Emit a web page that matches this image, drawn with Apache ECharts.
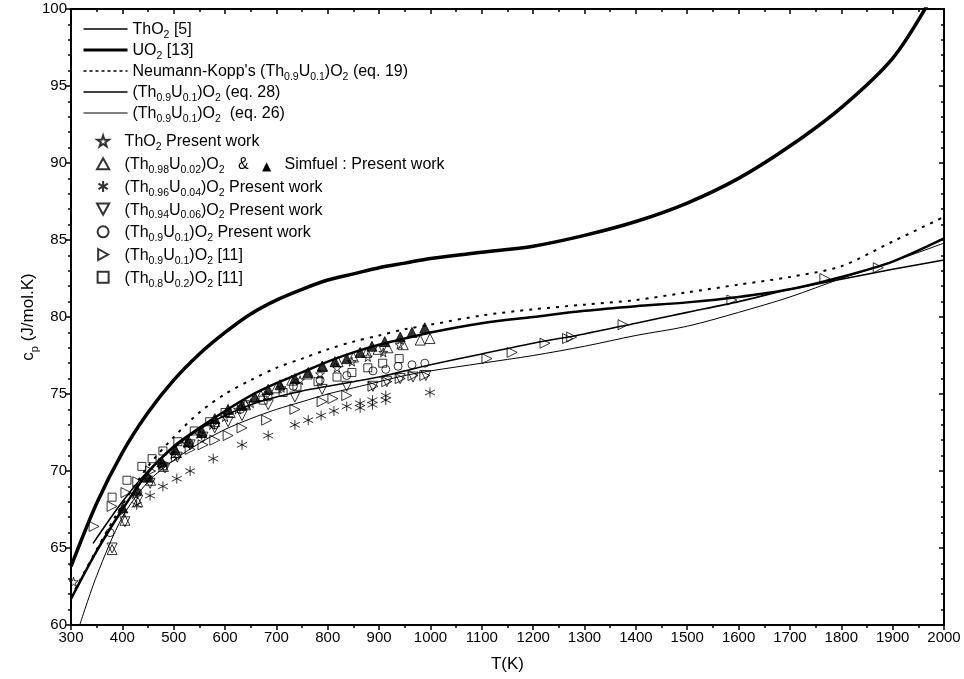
<!DOCTYPE html>
<html>
<head>
<meta charset="utf-8">
<script src="https://cdn.jsdelivr.net/npm/echarts@6/dist/echarts.min.js"></script>
<style>
  html, body { margin: 0; padding: 0; background: #fff; }
  #chart { width: 964px; height: 679px; }
</style>
</head>
<body>
<div id="chart"></div>
<script>
// curves, [T (K), cp (J/mol.K)]
const tho2Ref = [[300,61.7],[350,64.8],[400,67.5],[450,69.9],[500,71.6],[550,72.8],[600,73.9],[650,74.9],[700,75.7],[750,76.4],[800,77.1],[850,77.7],[900,78.2],[950,78.6],[1000,79.0],[1100,79.6],[1200,80.0],[1300,80.4],[1400,80.7],[1500,80.95],[1600,81.3],[1700,81.8],[1800,82.6],[1900,83.6],[2000,85.1]];
const uo2Ref = [[300,63.8],[350,67.9],[400,71.2],[450,73.8],[500,75.9],[550,77.6],[600,79.0],[650,80.2],[700,81.1],[750,81.8],[800,82.4],[850,82.8],[900,83.2],[950,83.5],[1000,83.8],[1100,84.2],[1200,84.6],[1300,85.3],[1400,86.2],[1500,87.4],[1600,89.0],[1700,91.1],[1800,93.6],[1900,96.8],[1970,100.4]];
const neumannKopp = [[300,61.8],[350,64.9],[400,67.8],[450,70.3],[500,72.2],[550,73.8],[600,75.0],[650,75.9],[700,76.7],[750,77.3],[800,77.9],[850,78.4],[900,78.8],[950,79.2],[1000,79.5],[1100,80.1],[1200,80.5],[1300,80.8],[1400,81.1],[1500,81.6],[1600,82.1],[1700,82.6],[1800,83.3],[1900,84.9],[2000,86.5]];
const eq28 = [[343,65.3],[400,68.0],[450,70.0],[500,71.5],[550,72.7],[600,73.6],[650,74.3],[700,74.8],[750,75.2],[800,75.5],[850,75.8],[900,76.1],[950,76.5],[1000,76.9],[1100,77.6],[1200,78.3],[1300,78.9],[1400,79.6],[1500,80.3],[1600,81.0],[1700,81.8],[1800,82.45],[1900,83.1],[2000,83.7]];
const eq26 = [[317,60.0],[350,63.2],[400,67.0],[450,69.3],[500,70.7],[550,71.8],[600,72.7],[650,73.4],[700,74.0],[750,74.5],[800,75.0],[850,75.4],[900,75.8],[950,76.2],[1000,76.5],[1100,77.0],[1200,77.5],[1300,78.1],[1400,78.8],[1500,79.4],[1600,80.3],[1700,81.3],[1800,82.5],[1900,83.6],[2000,84.8]];

// measured points
const tho2Work = [[305,62.8],[400,67.4],[425,68.5],[450,69.6],[475,70.4],[500,71.1],[525,71.8],[550,72.4],[575,73.0],[600,73.5],[625,74.0],[650,74.4],[680,74.9],[710,75.4],[746,75.9],[785,76.3],[818,76.7],[847,77.1],[878,77.4],[908,77.7],[940,78.2]];
const u002 = [[380,64.9],[405,66.8],[430,68.0],[455,69.4],[480,70.3],[505,71.2],[530,71.9],[555,72.6],[580,73.2],[610,73.8],[640,74.3],[670,74.9],[700,75.4],[730,75.9],[760,76.3],[790,76.8],[820,77.1],[850,77.4],[876,77.7],[898,77.9],[917,78.0],[947,78.2],[980,78.5],[999,78.6]];
const simfuel = [[401,67.6],[428,68.8],[450,69.6],[477,70.6],[503,71.4],[528,71.9],[555,72.5],[580,73.4],[606,74.0],[633,74.3],[658,74.8],[684,75.3],[707,75.6],[736,76.0],[762,76.4],[789,76.8],[814,77.1],[837,77.3],[863,77.7],[886,78.1],[911,78.4],[941,78.7],[964,79.0],[989,79.3]];
const u004 = [[428,67.8],[454,68.4],[479,69.0],[506,69.5],[532,70.0],[577,70.8],[633,71.7],[684,72.3],[736,73.0],[762,73.3],[787,73.6],[812,73.9],[837,74.2],[863,74.4],[863,74.1],[887,74.6],[887,74.3],[913,74.9],[913,74.6],[999,75.1]];
const u006 = [[380,65.0],[405,66.7],[430,68.1],[454,69.2],[483,70.2],[507,70.9],[532,71.7],[557,72.2],[580,72.8],[606,73.2],[633,73.6],[684,74.3],[736,74.8],[789,75.3],[837,75.5],[888,75.5],[915,75.8],[941,76.0],[966,76.1],[991,76.2]];
const u010 = [[376,66.0],[430,68.6],[480,70.3],[530,71.8],[580,73.0],[630,74.0],[684,74.8],[733,75.5],[785,75.9],[837,76.2],[888,76.5],[913,76.6],[937,76.8],[964,76.9],[989,77.0]];
const u010Ref = [[345,66.4],[380,67.7],[407,68.6],[430,69.3],[455,70.0],[480,70.5],[505,70.9],[532,71.4],[557,71.7],[580,72.0],[606,72.3],[633,72.8],[681,73.3],[736,74.0],[789,74.5],[810,74.7],[837,74.9],[888,75.5],[915,75.8],[941,76.0],[966,76.2],[989,76.2],[1110,77.3],[1159,77.7],[1223,78.3],[1267,78.6],[1275,78.7],[1375,79.5],[1587,81.1],[1768,82.5],[1872,83.2]];
const u020Ref = [[380,68.3],[409,69.4],[438,70.3],[458,70.8],[479,71.3],[508,71.9],[540,72.6],[570,73.2],[600,73.8],[640,74.3],[674,74.6],[713,75.1],[740,75.5],[781,75.8],[818,76.1],[847,76.4],[878,76.7],[907,77.0],[939,77.3]];

const xTicks = { min: 300, max: 2000, interval: 100 };
const yTicks = { min: 60, max: 100, interval: 5 };

const FONT = 'Arial, "Liberation Sans", sans-serif';

// "_{x}" marks a subscript
function rich(str) {
  const parts = str.split(/_\{([^}]*)\}/);
  let out = '';
  parts.forEach((p, i) => {
    if (!p) return;
    out += (i % 2 ? '{s|' : '{n|') + p + '}';
  });
  return out;
}

const richLegend = {
  n: { fontSize: 16, fontFamily: FONT, color: '#000', lineHeight: 18, verticalAlign: 'bottom' },
  s: { fontSize: 10.5, fontFamily: FONT, color: '#000', lineHeight: 18, verticalAlign: 'bottom', padding: [0, 0, -3, 0] },
  m: { fontSize: 12, fontFamily: '"DejaVu Sans", sans-serif', color: '#000', lineHeight: 18, verticalAlign: 'bottom' }
};
const richName = {
  n: { fontSize: 17, fontFamily: FONT, color: '#000', lineHeight: 20, verticalAlign: 'bottom' },
  s: { fontSize: 11, fontFamily: FONT, color: '#000', lineHeight: 20, verticalAlign: 'bottom', padding: [0, 0, -3, 0] }
};

const labels = {
  tho2: 'ThO_{2} [5]',
  uo2: 'UO_{2} [13]',
  nk: "Neumann-Kopp's (Th_{0.9}U_{0.1})O_{2} (eq. 19)",
  e28: '(Th_{0.9}U_{0.1})O_{2} (eq. 28)',
  e26: '(Th_{0.9}U_{0.1})O_{2}  (eq. 26)',
  tw: 'ThO_{2} Present work',
  u2: '(Th_{0.98}U_{0.02})O_{2}',
  u4: '(Th_{0.96}U_{0.04})O_{2} Present work',
  u6: '(Th_{0.94}U_{0.06})O_{2} Present work',
  u10: '(Th_{0.9}U_{0.1})O_{2} Present work',
  r10: '(Th_{0.9}U_{0.1})O_{2} [11]',
  r20: '(Th_{0.8}U_{0.2})O_{2} [11]'
};

const lineSeries = (key, data, width, type) => ({
  name: key, type: 'line', data, smooth: 0.3, symbol: 'none',
  lineStyle: { color: '#000', width, type: type || 'solid' },
  itemStyle: { color: '#000' }, z: 3
});

const open = { color: 'rgba(0,0,0,0)', borderColor: '#000', borderWidth: 1 };
const scatter = (key, data, symbol, size, style) => ({
  name: key, type: 'scatter', data, symbol, symbolSize: size,
  itemStyle: style || open, z: 4
});

const SYM = {
  star: 'path://M50,0L61,35L98,35L68,57L79,91L50,70L21,91L32,57L2,35L39,35Z',
  up: 'path://M5,0L10,9L0,9Z',
  down: 'path://M0,0L10,0L5,9Z',
  right: 'path://M0,0L9,5L0,10Z',
  ast: 'path://M5,0L5,10M0.7,2.5L9.3,7.5M0.7,7.5L9.3,2.5',
  sq: 'path://M0,0L10,0L10,10L0,10Z'
};

const chart = echarts.init(document.getElementById('chart'), null, { renderer: 'canvas' });

const axisCommon = {
  type: 'value',
  splitLine: { show: false },
  axisLine: { show: true, onZero: false, lineStyle: { color: '#000', width: 2 } }
};
const tickFont = { fontSize: 15, fontFamily: FONT, color: '#000' };

const legendBase = {
  orient: 'vertical', padding: 0,
  itemHeight: 11,
  formatter: k => k === 'u2'
    ? rich(labels.u2) + '{n|   &   }{m|▲}{n|   Simfuel : Present work}'
    : rich(labels[k]),
  textStyle: { rich: richLegend },
  selectedMode: false
};
const legendLine = (name, width, type) => ({
  name, itemStyle: { opacity: 0 }, lineStyle: { width, type: type || 'solid', color: '#000' }
});

chart.setOption({
  animation: false,
  backgroundColor: '#fff',
  grid: { left: 71, right: 20, top: 9, bottom: 54 },
  legend: [
    Object.assign({}, legendBase, {
      left: 82, top: 22, itemGap: 2, itemWidth: 44,
      data: [
        legendLine('tho2', 1.5), legendLine('uo2', 3), legendLine('nk', 1.5, [3, 3]),
        legendLine('e28', 1.5), legendLine('e26', 1)
      ]
    }),
    Object.assign({}, legendBase, {
      left: 96, top: 134, itemGap: 3.7, itemWidth: 33,
      data: ['tw', 'u2', 'u4', 'u6', 'u10', 'r10', 'r20']
    })
  ],
  xAxis: [
    Object.assign({}, axisCommon, xTicks, {
      position: 'bottom',
      name: 'T(K)', nameLocation: 'middle', nameGap: 31,
      nameTextStyle: { fontSize: 17, fontFamily: FONT, color: '#000' },
      axisTick: { show: true, length: 5, lineStyle: { color: '#000', width: 1.5 } },
      minorTick: { show: true, splitNumber: 2, length: 3, lineStyle: { color: '#000', width: 1.5 } },
      axisLabel: Object.assign({ margin: 5, formatter: v => String(v) }, tickFont)
    }),
    Object.assign({}, axisCommon, xTicks, {
      position: 'top',
      axisTick: { show: true, inside: true, length: 5, lineStyle: { color: '#000', width: 1.5 } },
      minorTick: { show: true, splitNumber: 2, length: 3, lineStyle: { color: '#000', width: 1.5 } },
      axisLabel: { show: false }
    })
  ],
  yAxis: [
    Object.assign({}, axisCommon, yTicks, {
      position: 'left',
      name: rich('c_{p} (J/mol.K)'), nameLocation: 'middle', nameGap: 34, nameRotate: 90,
      nameMoveOverlap: false,
      nameTextStyle: { rich: richName },
      axisTick: { show: true, length: 5, lineStyle: { color: '#000', width: 1.5 } },
      minorTick: { show: true, splitNumber: 5, length: 3, lineStyle: { color: '#000', width: 1.5 } },
      axisLabel: Object.assign({ margin: 4 }, tickFont)
    }),
    Object.assign({}, axisCommon, yTicks, {
      position: 'right',
      axisTick: { show: true, inside: true, length: 5, lineStyle: { color: '#000', width: 1.5 } },
      minorTick: { show: true, splitNumber: 5, length: 3, lineStyle: { color: '#000', width: 1.5 } },
      axisLabel: { show: false }
    })
  ],
  series: [
    lineSeries('tho2', tho2Ref, 2.5),
    lineSeries('uo2', uo2Ref, 3.5),
    lineSeries('nk', neumannKopp, 2, [3, 6]),
    lineSeries('e28', eq28, 1.6),
    lineSeries('e26', eq26, 1),
    scatter('tw', tho2Work, SYM.star, 9),
    scatter('u2', u002, SYM.up, 10),
    scatter('sf', simfuel, SYM.up, 10, { color: '#000', borderColor: '#000', borderWidth: 1 }),
    scatter('u4', u004, SYM.ast, 10),
    scatter('u6', u006, SYM.down, 10),
    scatter('u10', u010, 'circle', 8),
    scatter('r10', u010Ref, SYM.right, 10),
    scatter('r20', u020Ref, SYM.sq, 8)
  ]
});
</script>
</body>
</html>
